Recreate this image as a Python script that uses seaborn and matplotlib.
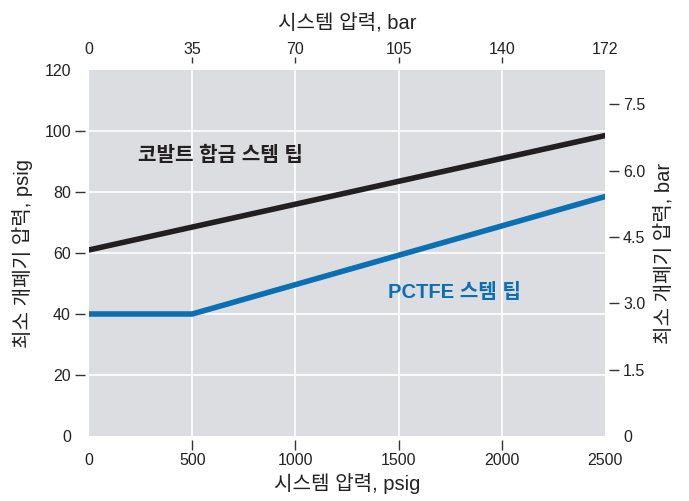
import matplotlib
matplotlib.use("Agg")
import matplotlib.pyplot as plt
import seaborn as sns
import pandas as pd

# data
cobalt_psig = [0, 2500]
cobalt_min = [61, 98.5]
pctfe_psig = [0, 500, 2500]
pctfe_min = [40, 40, 78.5]

x_ticks = [0, 500, 1000, 1500, 2000, 2500]
top_labels = ["0", "35", "70", "105", "140", "172"]
y_ticks = [0, 20, 40, 60, 80, 100, 120]
bar_ticks = [0, 1.5, 3.0, 4.5, 6.0, 7.5]
bar_labels = ["0", "1.5", "3.0", "4.5", "6.0", "7.5"]
PSI_PER_BAR = 14.5038

sns.set_theme(style="white")
plt.rcParams["font.family"] = ["Liberation Sans", "Noto Sans CJK KR", "DejaVu Sans"]

black = "#231f20"
blue = "#0a6fb3"
bg = "#dcdde0"
txt = "#222222"

fig = plt.figure(figsize=(6.89, 5.01), dpi=100)
ax = fig.add_axes([89 / 689, 65 / 501, 516 / 689, 366 / 501])
ax.set_facecolor(bg)

df_c = pd.DataFrame({"p": cobalt_psig, "v": cobalt_min})
df_p = pd.DataFrame({"p": pctfe_psig, "v": pctfe_min})
sns.lineplot(data=df_c, x="p", y="v", ax=ax, color=black, lw=4, zorder=3)
sns.lineplot(data=df_p, x="p", y="v", ax=ax, color=blue, lw=4, zorder=3)

ax.set_xlim(0, 2500)
ax.set_ylim(0, 120)
for t in x_ticks[1:-1]:
    ax.axvline(t, color="white", lw=1.2, zorder=1)
for t in y_ticks[1:-1]:
    ax.axhline(t, color="white", lw=1.2, zorder=1)


def style_axis(a, which, major, labels, side, out=3, length=7, pad=10):
    # labels on major ticks (no mark), marks only on inner minor ticks
    axis = a.xaxis if which == "x" else a.yaxis
    axis.remove_overlapping_locs = False
    axis.set_ticks(major)
    axis.set_ticklabels(labels)
    axis.set_ticks(major[1:-1] if side != "right" else major[1:], minor=True)
    axis.set_minor_formatter(plt.NullFormatter())
    axis.set_ticks_position(side)
    for s in a.spines.values():
        s.set_visible(False)
    a.spines[side].set_position(("outward", out))
    a.tick_params(axis=which, which="major", length=0, labelsize=11.5,
                  labelcolor=txt, pad=pad)
    a.tick_params(axis=which, which="minor", direction="out", length=length,
                  width=1, color="#333333")
    a.grid(False)


style_axis(ax, "x", x_ticks, [str(t) for t in x_ticks], "bottom", pad=9)
style_axis(ax, "y", y_ticks, [str(t) for t in y_ticks], "left")
ax.set_xlabel("시스템 압력, psig", fontsize=14.5, color=txt, labelpad=4)
ax.set_ylabel("최소 개폐기 압력, psig", fontsize=14.5, color=txt, labelpad=8)

# top axis in bar
ax_top = ax.twiny()
ax_top.set_xlim(ax.get_xlim())
style_axis(ax_top, "x", x_ticks, top_labels, "top", out=5, length=4.5, pad=4)
ax_top.set_xlabel("시스템 압력, bar", fontsize=14.5, color=txt, labelpad=10)

# right axis in bar
ax_r = ax.twinx()
ax_r.set_ylim(ax.get_ylim())
style_axis(ax_r, "y", [b * PSI_PER_BAR for b in bar_ticks], bar_labels, "right")
ax_r.set_ylabel("최소 개폐기 압력, bar", fontsize=14.5, color=txt, labelpad=6)

ax.text(237, 92, "코발트 합금 스템 팁", fontsize=14.5, fontweight="bold",
        color=black, va="center", ha="left", zorder=4)
ax.text(1449, 47.2, "PCTFE 스템 팁", fontsize=14.5, fontweight="bold",
        color=blue, va="center", ha="left", zorder=4)

fig.savefig("out.png", dpi=100)
